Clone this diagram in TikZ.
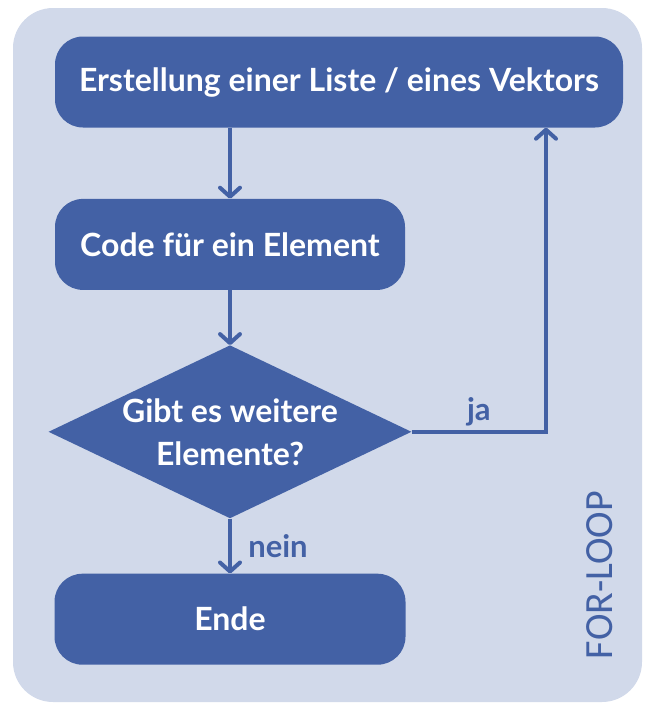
\documentclass[tikz,border=0pt]{standalone}
\usepackage{fontspec}
\setmainfont{Lato}
\newfontfamily\loopfont{Carlito}
\usetikzlibrary{arrows.meta, positioning, shapes.geometric}
\definecolor{loopbg}{HTML}{D1D9EA}
\definecolor{loopblue}{HTML}{4361A5}
\tikzset{
  loop/.style={
    x=1pt, y=-1pt,
    font=\bfseries\fontsize{32}{43}\selectfont,
    >={Straight Barb[length=9pt, width=20pt, line cap=round, line join=round]},
  },
  box/.style={
    fill=loopblue, text=white, rounded corners=28pt,
    minimum height=91pt, inner sep=0pt, align=center,
  },
  check/.style={
    diamond, fill=loopblue, minimum width=363pt,
    minimum height=173pt, inner sep=0pt,
  },
  checktext/.style={text=white, align=center},
  flow/.style={->, draw=loopblue, line width=4pt},
  edgelbl/.style={text=loopblue, font=\bfseries\fontsize{31}{34}\selectfont},
}

\begin{document}
\begin{tikzpicture}[loop]
  \useasboundingbox (0,0) rectangle (656,716);
  \fill[loopbg, rounded corners=40pt] (13,8) rectangle (642,702);

  \node[box, minimum width=568pt] (create) at (339,82) {Erstellung einer Liste / eines Vektors};
  \node[box, minimum width=350pt, below=71pt of create.south west, anchor=north west] (code) {Code für ein Element};
  \node[check, below=55pt of code, label={[checktext]center:Gibt es weitere\\Elemente?}] (more) {};
  \node[box, minimum width=351pt, below=55pt of more] (stop) {Ende};

  \draw[flow] (create.south -| code) -- (code);
  \draw[flow] (code) -- (more);
  \draw[flow] (more) -- node[edgelbl, right=13pt] {nein} (stop);
  \draw[flow] (more.east) -| node[edgelbl, above, pos=0.25] {ja} ([xshift=207pt]create.south);

  \node[text=loopblue, font=\loopfont\fontsize{40}{40}\selectfont, rotate=90] (name) at (600,575) {FOR-LOOP};
\end{tikzpicture}
\end{document}
